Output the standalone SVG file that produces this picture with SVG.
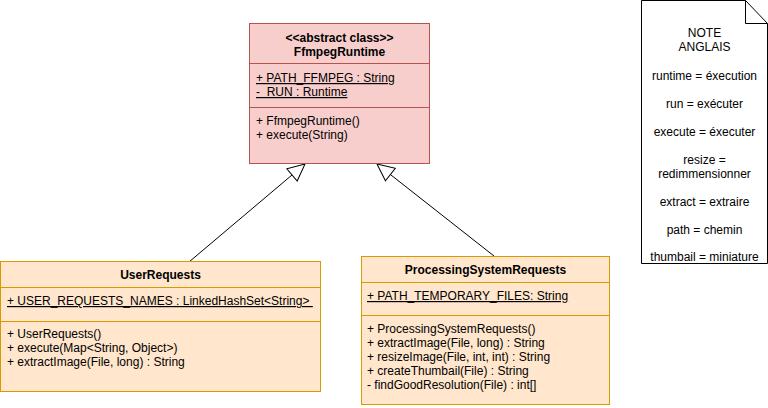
<svg xmlns="http://www.w3.org/2000/svg" width="768" height="408" viewBox="0 0 768 408">
<style>
text{font-family:"Liberation Sans",Arial,sans-serif;font-size:12px;fill:#000}
.b{font-weight:bold}
.m{text-anchor:middle}
.u{text-decoration:underline}
.pink{fill:#f8cecc;stroke:#b85450;stroke-width:1}
.orange{fill:#ffe6cc;stroke:#d79b00;stroke-width:1}
.div1{stroke:#b85450;stroke-width:1}
.div2{stroke:#d79b00;stroke-width:1}
.edge{fill:none;stroke:#000;stroke-width:1}
</style>
<defs>
<marker id="tri" markerUnits="userSpaceOnUse" markerWidth="20" markerHeight="20" viewBox="-18 -10 20 20" refX="0" refY="0" orient="auto">
<path d="M0,0 L-17,-8 L-17,8 Z" fill="#fff" stroke="#000" stroke-width="1"/>
</marker>
</defs>
<rect width="768" height="408" fill="#fff"/>
<g id="connectors">
<line class="edge" x1="189" y1="262" x2="305" y2="164" marker-end="url(#tri)"/>
<line class="edge" x1="494" y1="256" x2="377" y2="164" marker-end="url(#tri)"/>
</g>
<g id="FfmpegRuntime">
<rect class="pink" x="249.5" y="23.5" width="180" height="140"/>
<line class="div1" x1="249.5" y1="63.5" x2="429.5" y2="63.5"/>
<line class="div1" x1="249.5" y1="107.5" x2="429.5" y2="107.5"/>
<text class="b m" x="339.5" y="42">&lt;&lt;abstract class&gt;&gt;</text>
<text class="b m" x="339.5" y="56">FfmpegRuntime</text>
<text class="u" x="256" y="82">+ PATH_FFMPEG : String</text>
<text class="u" x="256" y="96" xml:space="preserve">-  RUN : Runtime</text>
<text x="256" y="125">+ FfmpegRuntime()</text>
<text x="256" y="139">+ execute(String)</text>
</g>
<g id="UserRequests">
<rect class="orange" x="0.5" y="261.5" width="320" height="130"/>
<line class="div2" x1="0.5" y1="287.5" x2="320.5" y2="287.5"/>
<line class="div2" x1="0.5" y1="321.5" x2="320.5" y2="321.5"/>
<text class="b m" x="160.5" y="279">UserRequests</text>
<text class="u" x="7" y="305" xml:space="preserve">+ USER_REQUESTS_NAMES : LinkedHashSet&lt;String&gt; </text>
<text x="7" y="338">+ UserRequests()</text>
<text x="7" y="352">+ execute(Map&lt;String, Object&gt;)</text>
<text x="7" y="366">+ extractImage(File, long) : String</text>
</g>
<g id="ProcessingSystemRequests">
<rect class="orange" x="361.5" y="256.5" width="248" height="148"/>
<line class="div2" x1="361.5" y1="282.5" x2="609.5" y2="282.5"/>
<line class="div2" x1="361.5" y1="315.5" x2="609.5" y2="315.5"/>
<text class="b m" x="485.5" y="274">ProcessingSystemRequests</text>
<text class="u" x="367" y="300">+ PATH_TEMPORARY_FILES: String</text>
<text x="367" y="333">+ ProcessingSystemRequests()</text>
<text x="367" y="347">+ extractImage(File, long) : String</text>
<text x="367" y="361">+ resizeImage(File, int, int) : String</text>
<text x="367" y="375">+ createThumbail(File) : String</text>
<text x="367" y="389">- findGoodResolution(File) : int[]</text>
</g>
<g id="note">
<path d="M641.5,0.5 L745.5,0.5 L767.5,23.5 L767.5,263.5 L641.5,263.5 Z" fill="#fff" stroke="#000" stroke-width="1"/>
<path d="M745.5,0.5 L745.5,23.5 L767.5,23.5" fill="none" stroke="#000" stroke-width="1"/>
<text class="m" x="704.5" y="37">NOTE</text>
<text class="m" x="704.5" y="51">ANGLAIS</text>
<text class="m" x="704.5" y="80">runtime = éxecution</text>
<text class="m" x="704.5" y="108">run = exécuter</text>
<text class="m" x="704.5" y="136">execute = éxecuter</text>
<text class="m" x="704.5" y="164">resize =</text>
<text class="m" x="704.5" y="178">redimmensionner</text>
<text class="m" x="704.5" y="206">extract = extraire</text>
<text class="m" x="704.5" y="234">path = chemin</text>
<text class="m" x="704.5" y="261">thumbail = miniature</text>
</g>
</svg>
